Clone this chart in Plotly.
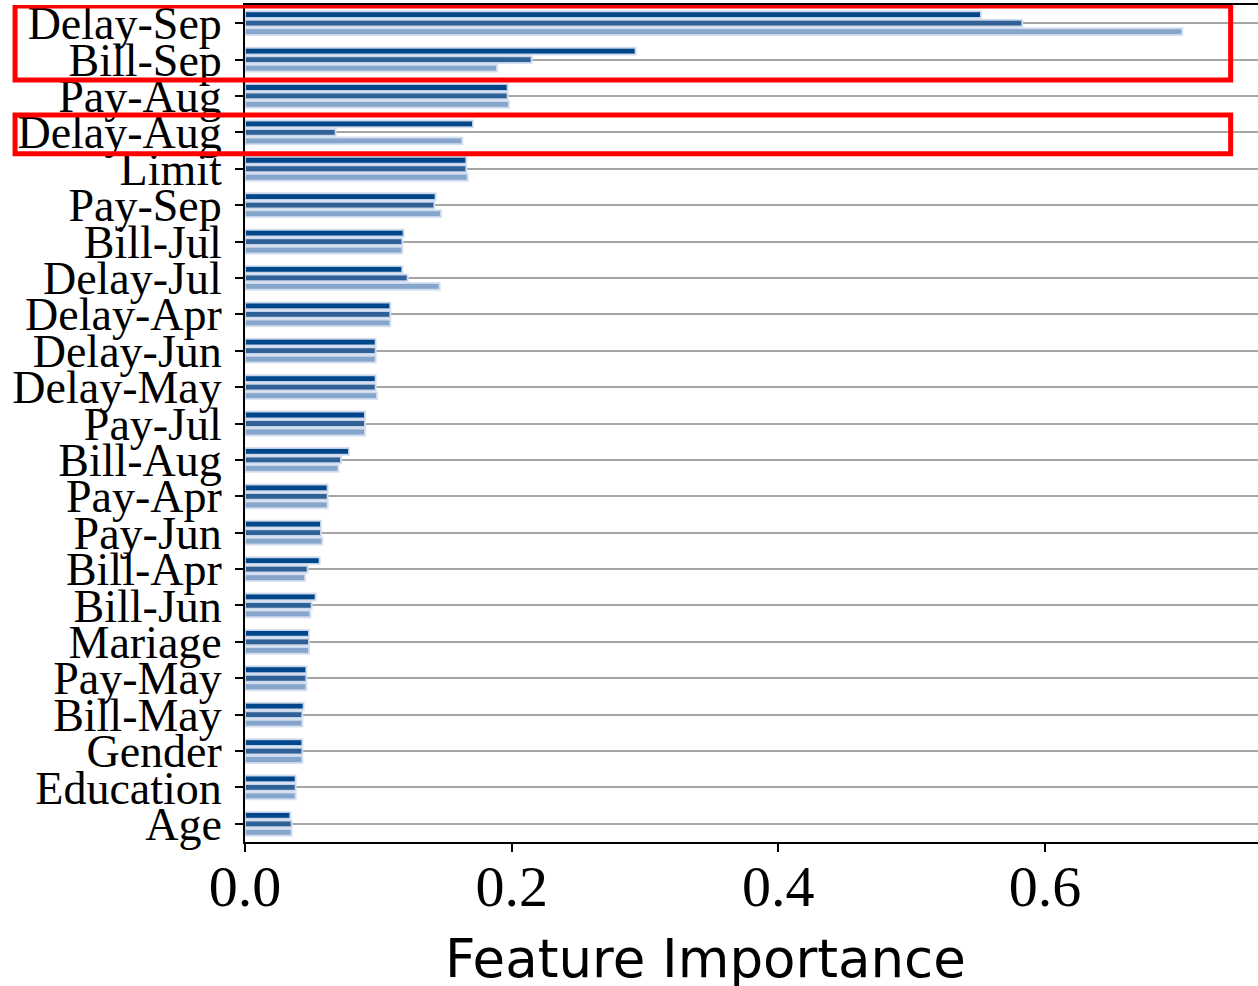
import plotly.graph_objects as go

features = ["Delay-Sep", "Bill-Sep", "Pay-Aug", "Delay-Aug", "Limit", "Pay-Sep", "Bill-Jul",
            "Delay-Jul", "Delay-Apr", "Delay-Jun", "Delay-May", "Pay-Jul", "Bill-Aug", "Pay-Apr",
            "Pay-Jun", "Bill-Apr", "Bill-Jun", "Mariage", "Pay-May", "Bill-May", "Gender",
            "Education", "Age"]

series_a = [0.552, 0.293, 0.197, 0.171, 0.166, 0.143, 0.119, 0.118, 0.109, 0.098, 0.098, 0.090,
            0.078, 0.062, 0.057, 0.056, 0.053, 0.048, 0.046, 0.044, 0.043, 0.038, 0.034]
series_b = [0.583, 0.215, 0.197, 0.068, 0.166, 0.142, 0.118, 0.122, 0.109, 0.098, 0.098, 0.090,
            0.072, 0.062, 0.057, 0.047, 0.050, 0.048, 0.046, 0.043, 0.043, 0.038, 0.035]
series_c = [0.703, 0.189, 0.198, 0.163, 0.167, 0.147, 0.118, 0.146, 0.109, 0.098, 0.099, 0.090,
            0.070, 0.062, 0.058, 0.045, 0.049, 0.048, 0.046, 0.043, 0.043, 0.038, 0.035]

x_ticks = [0.0, 0.2, 0.4, 0.6]

colors = ["#00468b", "#2f6096", "#85a5ca"]
halo = "rgba(212,222,240,0.9)"

fig = go.Figure()
for vals, col in zip([series_a, series_b, series_c], colors):
    fig.add_trace(go.Bar(
        y=features, x=vals, orientation="h",
        marker=dict(color=col, line=dict(color=halo, width=2)),
        showlegend=False,
    ))

fig.update_layout(
    width=1258, height=986,
    margin=dict(l=245, r=0, t=5, b=144),
    plot_bgcolor="white", paper_bgcolor="white",
    barmode="group", bargap=0.3, bargroupgap=0.2,
    font=dict(family="Liberation Serif", color="black"),
)
fig.update_yaxes(
    automargin=False,
    autorange=False, range=[22.5, -0.5],
    categoryorder="array", categoryarray=features,
    tickmode="array", tickvals=features, ticktext=features,
    showgrid=True, gridcolor="#a6a6a6", gridwidth=1.5,
    showline=True, linecolor="black", linewidth=2,
    ticks="outside", ticklen=8, tickwidth=2, tickcolor="black",
    tickfont=dict(family="Liberation Serif", size=46, color="black"),
    ticklabelstandoff=4,
)
fig.update_xaxes(
    automargin=False,
    range=[0, 0.7598], tickvals=x_ticks, ticktext=[f"{v:.1f}" for v in x_ticks],
    showgrid=False, zeroline=False,
    showline=True, linecolor="black", linewidth=2, mirror=True,
    ticks="outside", ticklen=8, tickwidth=2, tickcolor="black",
    tickfont=dict(family="Liberation Serif", size=58, color="black"),
    ticklabelstandoff=-16,
)
fig.add_annotation(
    text="Feature Importance", xref="paper", yref="paper",
    x=(705 - 245) / 1013, y=(842 - 958) / 837, xanchor="center", yanchor="middle",
    showarrow=False, font=dict(family="DejaVu Sans", size=53, color="black"),
)
red = dict(color="#ff0000", width=5)
fig.add_shape(type="rect", xref="paper", yref="y", x0=-0.227, x1=0.973, y0=-0.47, y1=1.56,
              line=red, fillcolor="rgba(0,0,0,0)", layer="above")
fig.add_shape(type="rect", xref="paper", yref="y", x0=-0.227, x1=0.973, y0=2.52, y1=3.59,
              line=red, fillcolor="rgba(0,0,0,0)", layer="above")

fig.write_html("out.html", config={"displayModeBar": False},
               post_script="document.body.style.margin='0';document.body.style.overflow='hidden';")
